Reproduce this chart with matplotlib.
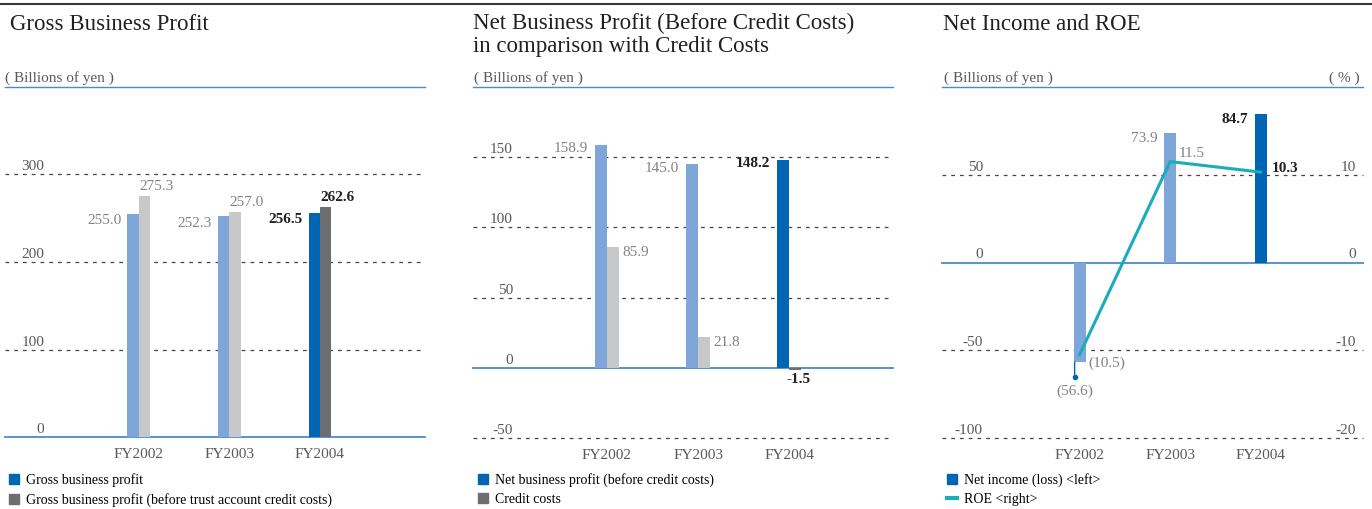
import numpy as np
from matplotlib import pyplot as plt
from matplotlib import transforms
from matplotlib.patches import Patch
from matplotlib.lines import Line2D

plt.rcParams['font.family'] = ['Liberation Serif', 'DejaVu Serif']

#the data
years = ['FY2002', 'FY2003', 'FY2004']
gross_profit = [255.0, 252.3, 256.5]
gross_profit_before_trust = [275.3, 257.0, 262.6]
net_business_profit = [158.9, 145.0, 148.2]
credit_costs = [85.9, 21.8, -1.5]
net_income = [-56.6, 73.9, 84.7]
roe = [-10.5, 11.5, 10.3]

W, H = 1372, 509
LIGHT_BLUE = '#7fa6d8'
DARK_BLUE = '#0066b3'
LIGHT_GRAY = '#c7c8ca'
DARK_GRAY = '#6d6e71'
TEAL = '#1aabbd'
AXIS_BLUE = '#4a8cc9'
TICK_COLOR = '#58595b'
LABEL_GRAY = '#808285'
BLACK = '#231f20'


def fmt(v):
	if v < 0 and abs(v) > 5:
		return f"({abs(v):.1f})"
	return f"{v:.1f}"


def make_axes(fig, left, right, bottom, top):
	ax = fig.add_axes([left / W, (H - bottom) / H, (right - left) / W, (bottom - top) / H])
	for s in ['left', 'right', 'bottom']:
		ax.spines[s].set_visible(False)
	ax.spines['top'].set_color(AXIS_BLUE)
	ax.spines['top'].set_linewidth(1.0)
	ax.set_yticks([])
	ax.set_xticks(range(len(years)))
	ax.set_xticklabels(years, fontsize=11, color=TICK_COLOR)
	ax.tick_params(axis='x', length=0, pad=8)
	return ax


def y_grid(ax, ticks, xpos, right_ticks=None, right_xpos=None):
	for t in ticks:
		if t == 0:
			ax.axhline(0, color=AXIS_BLUE, lw=1.3, zorder=1, clip_on=False)
		else:
			ax.axhline(t, color='#444444', lw=0.9, ls=(0, (3, 4)), zorder=0, clip_on=False)
		ax.annotate(f"{t}", xy=(xpos, t), xycoords=('axes fraction', 'data'), xytext=(0, 1),
			textcoords='offset pixels', ha='right', va='bottom', fontsize=11, color=TICK_COLOR)
	if right_ticks is not None:
		for t, rt in zip(ticks, right_ticks):
			ax.annotate(f"{rt}", xy=(right_xpos, t), xycoords=('axes fraction', 'data'), xytext=(0, 1),
				textcoords='offset pixels', ha='right', va='bottom', fontsize=11, color=TICK_COLOR)


def label(ax, x, y, text, dx, dy, ha, bold):
	ax.annotate(text, xy=(x, y), xytext=(dx, dy), textcoords='offset pixels', ha=ha, va='center',
		fontsize=11, color=BLACK if bold else LABEL_GRAY, fontweight='bold' if bold else 'normal')


fig = plt.figure(figsize=(W / 100, H / 100), dpi=100)
fig.add_artist(Line2D([0, 1], [1 - 4 / H, 1 - 4 / H], color='#3a3a3a', lw=1.5, transform=fig.transFigure))

x = np.arange(len(years))
last = len(years) - 1

#Panel 1 - gross business profit
ax1 = make_axes(fig, 5, 425, 437, 87)
w1 = 0.127
ax1.set_xlim(-1.48, 3.16)
ax1.set_ylim(0, 400)
y_grid(ax1, [0, 100, 200, 300], 0.093)
c1 = [LIGHT_BLUE if i < last else DARK_BLUE for i in x]
c2 = [LIGHT_GRAY if i < last else DARK_GRAY for i in x]
ax1.bar(x - w1 / 2, gross_profit, w1, color=c1, zorder=2)
ax1.bar(x + w1 / 2, gross_profit_before_trust, w1, color=c2, zorder=2)
for i in x:
	label(ax1, i - w1, gross_profit[i], fmt(gross_profit[i]), -6, -7, 'right', i == last)
	label(ax1, i, gross_profit_before_trust[i], fmt(gross_profit_before_trust[i]), 0, 10, 'left', i == last)

#Panel 2 - net business profit vs credit costs
ax2 = make_axes(fig, 473, 893, 438, 87)
w2 = 0.128
ax2.set_xlim(-1.47, 3.14)
ax2.set_ylim(-50, 200)
y_grid(ax2, [-50, 0, 50, 100, 150], 0.095)
ax2.bar(x - w2 / 2, net_business_profit, w2, color=c1, zorder=2)
ax2.bar(x + w2 / 2, credit_costs, w2, color=c2, zorder=2)
for i in x:
	label(ax2, i - w2, net_business_profit[i], fmt(net_business_profit[i]), -7, -4, 'right', i == last)
	if credit_costs[i] >= 0:
		label(ax2, i + w2, credit_costs[i], fmt(credit_costs[i]), 4, -5, 'left', i == last)
	else:
		label(ax2, i + w2 / 2, credit_costs[i], fmt(credit_costs[i]), 4, -10, 'center', i == last)

#Panel 3 - net income and ROE
ax3 = make_axes(fig, 942, 1363, 438, 87)
w3 = 0.13
ax3.set_xlim(-1.52, 3.13)
ax3.set_ylim(-100, 100)
y_grid(ax3, [-100, -50, 0, 50], 0.097, right_ticks=[-20, -10, 0, 10], right_xpos=0.983)
ax3.bar(x, net_income, w3, color=c1, zorder=2)
ax4 = ax3.twinx()
ax4.set_ylim(-20, 20)
ax4.axis('off')
ax4.plot(x, roe, color=TEAL, lw=2.2, zorder=3)
below = transforms.offset_copy(ax3.transData, fig=fig, y=-15, units='dots')
for i in x:
	if net_income[i] >= 0:
		label(ax3, i - w3 / 2, net_income[i], fmt(net_income[i]), -7, -6, 'right', i == last)
	else:
		xi = i - w3 / 2 + 0.01
		ax3.annotate('', xy=(xi, net_income[i]), xytext=(0, -15), textcoords='offset pixels',
			arrowprops=dict(arrowstyle='-', color=DARK_BLUE, lw=1, shrinkA=0, shrinkB=0))
		ax3.plot([xi], [net_income[i]], 'o', ms=3, color=DARK_BLUE, transform=below, clip_on=False)
		label(ax3, xi, net_income[i], fmt(net_income[i]), 0, -29, 'center', i == last)
roe_offsets = [(9, -9), (9, 8), (11, 4)]
for i in x:
	label(ax4, i, roe[i], fmt(roe[i]), roe_offsets[i][0], roe_offsets[i][1], 'left', i == last)

#titles and units
fig.text(10 / W, 1 - 24 / H, 'Gross Business Profit', fontsize=16.5, color=BLACK, va='center')
fig.text(473 / W, 1 - 35 / H, 'Net Business Profit (Before Credit Costs)\nin comparison with Credit Costs',
	fontsize=16.5, color=BLACK, va='center', linespacing=1.15)
fig.text(943 / W, 1 - 24 / H, 'Net Income and ROE', fontsize=16.5, color=BLACK, va='center')
for xp in [5, 474, 944]:
	fig.text(xp / W, 1 - 78 / H, '( Billions of yen )', fontsize=11, color=TICK_COLOR, va='center')
fig.text(1360 / W, 1 - 78 / H, '( % )', fontsize=11, color=TICK_COLOR, va='center', ha='right')

#legends
leg_kw = dict(loc='upper left', frameon=False, fontsize=10, handlelength=0.75, handleheight=0.75,
	handletextpad=0.5, labelspacing=0.45, borderpad=0, borderaxespad=0, bbox_transform=fig.transFigure)
ax1.legend(handles=[Patch(color=DARK_BLUE, label='Gross business profit'),
	Patch(color=DARK_GRAY, label='Gross business profit (before trust account credit costs)')],
	bbox_to_anchor=(9 / W, 1 - 473 / H), **leg_kw)
ax2.legend(handles=[Patch(color=DARK_BLUE, label='Net business profit (before credit costs)'),
	Patch(color=DARK_GRAY, label='Credit costs')],
	bbox_to_anchor=(478 / W, 1 - 473 / H), **leg_kw)
ax4.legend(handles=[Patch(color=DARK_BLUE, label='Net income (loss) <left>'),
	Line2D([], [], color=TEAL, lw=3, label='ROE <right>')],
	bbox_to_anchor=(947 / W, 1 - 473 / H), **leg_kw)

fig.savefig('out.png', dpi=100)
